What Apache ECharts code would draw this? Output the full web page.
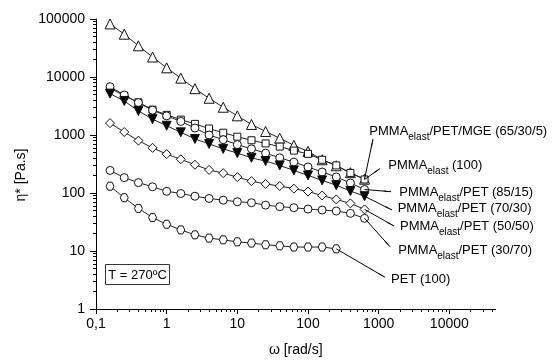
<!DOCTYPE html>
<html><head><meta charset="utf-8">
<script src="https://cdn.jsdelivr.net/npm/echarts@6/dist/echarts.min.js"></script>
<style>html,body{margin:0;padding:0;background:#fff}#c{width:556px;height:362px}</style>
</head><body><div id="c"></div>
<script>
// angular frequency (rad/s)
const omega = [0.158, 0.251, 0.398, 0.631, 1, 1.585, 2.512, 3.981, 6.31, 10, 15.85, 25.12, 39.81, 63.1, 100, 158.5, 251.2, 398.1, 631];
const omegaPET = [0.158, 0.251, 0.398, 0.631, 1, 1.585, 2.512, 3.981, 6.31, 10, 15.85, 25.12, 39.81, 63.1, 100, 158.5, 251.2];
// complex viscosity (Pa.s)
const etaMGE    = [82200, 54700, 34500, 22100, 14400, 9550, 6290, 4300, 3010, 2140, 1520, 1150, 879, 662, 522, 374, 295, 224, 173];
const etaPMMA   = [6400, 4750, 3660, 2730, 2224, 1841, 1555, 1292, 1094, 935, 811, 716, 631, 539, 473, 374, 299, 222, 171];
const eta8515   = [6800, 4890, 3620, 2675, 2137, 1714, 1318, 1000, 831, 683, 576, 487, 404, 341, 281, 230, 189, 149, 115];
const eta7030   = [5160, 3860, 2602, 1878, 1443, 1112, 855, 702, 576, 487, 404, 355, 299, 245, 201, 165, 136, 108, 88];
const eta5050   = [1603, 1125, 799, 600, 468, 381, 307, 250, 220, 188, 160, 143, 132, 119, 106, 90.6, 77.4, 66.2, 52.2];
const eta3070   = [245, 184, 151, 128, 107, 98, 88, 80.5, 75.3, 70.7, 68, 61.8, 58.1, 55.8, 52.8, 50.8, 48.9, 44.6, 36.6];
const etaPET    = [131, 82.8, 54.3, 37.7, 28.9, 23.1, 19.0, 16.7, 15.6, 14.4, 13.7, 12.8, 12.3, 11.7, 11.7, 11.7, 10.9];

const xMajor = [0.1, 1, 10, 100, 1000, 10000];
const xTickLabels = ['0,1', '1', '10', '100', '1000', '10000'];
const yMajor = [1, 10, 100, 1000, 10000, 100000];
const yTickLabels = ['1', '10', '100', '1000', '10000', '100000'];
const xMin = 0.1, xMax = 45000, yMin = 1, yMax = 100000;

const FONT = 'Liberation Sans, Arial, sans-serif';

function minorList(lo, hi) {
  const out = [];
  for (let d = Math.floor(Math.log10(lo)); d <= Math.ceil(Math.log10(hi)); d++) {
    for (let k = 2; k <= 9; k++) {
      const v = +(k * Math.pow(10, d)).toPrecision(4);
      if (v > lo && v <= hi * 1.0001) out.push(v);
    }
  }
  return out;
}
function lookup(major, labels) {
  return function (v) {
    for (let i = 0; i < major.length; i++) {
      if (Math.abs(Math.log10(v) - Math.log10(major[i])) < 1e-6) return labels[i];
    }
    return '';
  };
}

const hexagon = 'path://M-5,-8.66L5,-8.66L10,0L5,8.66L-5,8.66L-10,0Z';

function arrow(xv, yv, px, py) {
  return {
    silent: true,
    animation: false,
    symbol: ['none', 'arrow'],
    symbolSize: [1, 8],
    label: { show: false },
    emphasis: { disabled: true },
    lineStyle: { color: '#000', width: 1, type: 'solid' },
    data: [[{ coord: [xv, yv] }, { x: px, y: py }]]
  };
}

function mkSeries(name, xs, ys, symbol, size, fill, extra, ml) {
  return Object.assign({
    name: name,
    type: 'line',
    data: xs.map((x, i) => [x, ys[i]]),
    symbol: symbol,
    symbolSize: size,
    showAllSymbol: true,
    lineStyle: { color: '#222', width: 1 },
    itemStyle: { color: fill, borderColor: '#111', borderWidth: 1 },
    emphasis: { disabled: true },
    animation: false,
    markLine: ml
  }, extra || {});
}

const axisFont = { fontFamily: FONT, fontSize: 14, color: '#000' };

const rich = {
  m: { fontFamily: FONT, fontSize: 13, lineHeight: 15, verticalAlign: 'top', fill: '#000', color: '#000' },
  s: { fontFamily: FONT, fontSize: 10, lineHeight: 17.5, verticalAlign: 'bottom', fill: '#000', color: '#000' }
};
function lbl(text, x, yc) {
  return { type: 'text', x: x, y: yc - 7.5, silent: true, style: { text: text, rich: rich, align: 'left', verticalAlign: 'top', fill: '#000' } };
}

const chart = echarts.init(document.getElementById('c'), null, { renderer: 'canvas' });
chart.setOption({
  animation: false,
  backgroundColor: '#fff',
  grid: { left: 96, right: 60.5, top: 19, bottom: 50.5, containLabel: false },
  xAxis: [
    {
      type: 'log', logBase: 10, min: xMin, max: xMax, position: 'bottom',
      axisLine: { show: true, lineStyle: { color: '#000', width: 1 } },
      axisTick: { show: true, length: 5, lineStyle: { color: '#000' }, customValues: xMajor },
      axisLabel: Object.assign({ customValues: xMajor, formatter: lookup(xMajor, xTickLabels), margin: 8 }, axisFont),
      splitLine: { show: false },
      name: 'ω [rad/s]', nameLocation: 'middle', nameGap: 34,
      nameTextStyle: axisFont
    },
    {
      type: 'log', logBase: 10, min: xMin, max: xMax, position: 'bottom',
      axisLine: { show: false },
      axisTick: { show: true, length: 3, lineStyle: { color: '#000' }, customValues: minorList(xMin, xMax) },
      axisLabel: { show: false },
      splitLine: { show: false }
    }
  ],
  yAxis: [
    {
      type: 'log', logBase: 10, min: yMin, max: yMax, position: 'left',
      axisLine: { show: true, lineStyle: { color: '#000', width: 1 } },
      axisTick: { show: true, length: 6, lineStyle: { color: '#000' }, customValues: yMajor },
      axisLabel: Object.assign({ customValues: yMajor, formatter: lookup(yMajor, yTickLabels), margin: 11 }, axisFont),
      splitLine: { show: false }
    },
    {
      type: 'log', logBase: 10, min: yMin, max: yMax, position: 'left',
      axisLine: { show: false },
      axisTick: { show: true, length: 3, lineStyle: { color: '#000' }, customValues: minorList(yMin, yMax) },
      axisLabel: { show: false },
      splitLine: { show: false }
    }
  ],
  series: [
    mkSeries('PMMAelast/PET/MGE (65/30/5)', omega, etaMGE, 'triangle', 10, '#fff', null, arrow(omega[18], etaMGE[18], 373, 139)),
    mkSeries('PMMAelast (100)', omega, etaPMMA, 'rect', 7, '#fff', null, arrow(omega[18], etaPMMA[18], 380, 168.5)),
    mkSeries('PMMAelast/PET (85/15)', omega, eta8515, 'circle', 8, '#fff', null, arrow(omega[18], eta8515[18], 391, 191.7)),
    mkSeries('PMMAelast/PET (70/30)', omega, eta7030, 'triangle', 9, '#000', { symbolRotate: 180 }, arrow(omega[18], eta7030[18], 392, 210)),
    mkSeries('PMMAelast/PET (50/50)', omega, eta5050, 'diamond', 9, '#fff', null, arrow(omega[18], eta5050[18], 394, 226)),
    mkSeries('PMMAelast/PET (30/70)', omega, eta3070, 'circle', 8, '#fff', null, arrow(omega[18], eta3070[18], 390, 246.7)),
    mkSeries('PET (100)', omegaPET, etaPET, hexagon, 8, '#fff', null, arrow(omegaPET[16], etaPET[16], 385, 277.3))
  ],
  graphic: [
    { type: 'text', x: 21, y: 175, rotation: Math.PI / 2, silent: true,
      style: { text: 'η* [Pa.s]', align: 'center', verticalAlign: 'middle', font: '14px ' + FONT, fill: '#000' } },
    lbl('{m|PMMA}{s|elast}{m|/PET/MGE (65/30/5)}', 369.3, 132.3),
    lbl('{m|PMMA}{s|elast}{m| (100)}', 388.3, 166.7),
    lbl('{m|PMMA}{s|elast}{m|/PET (85/15)}', 399.3, 193.3),
    lbl('{m|PMMA}{s|elast}{m|/PET (70/30)}', 397.7, 209),
    lbl('{m|PMMA}{s|elast}{m|/PET (50/50)}', 400, 227.7),
    lbl('{m|PMMA}{s|elast}{m|/PET (30/70)}', 398.3, 251),
    lbl('{m|PET (100)}', 391, 280),
    {
      type: 'group', silent: true,
      children: [
        { type: 'rect', shape: { x: 105.5, y: 264.5, width: 64, height: 20 }, style: { fill: '#fff', stroke: '#333', lineWidth: 1 } },
        { type: 'text', x: 137.5, y: 275, style: { text: 'T = 270ºC', align: 'center', verticalAlign: 'middle', font: '13px ' + FONT, fill: '#000' } }
      ]
    }
  ]
});
</script>
</body></html>
